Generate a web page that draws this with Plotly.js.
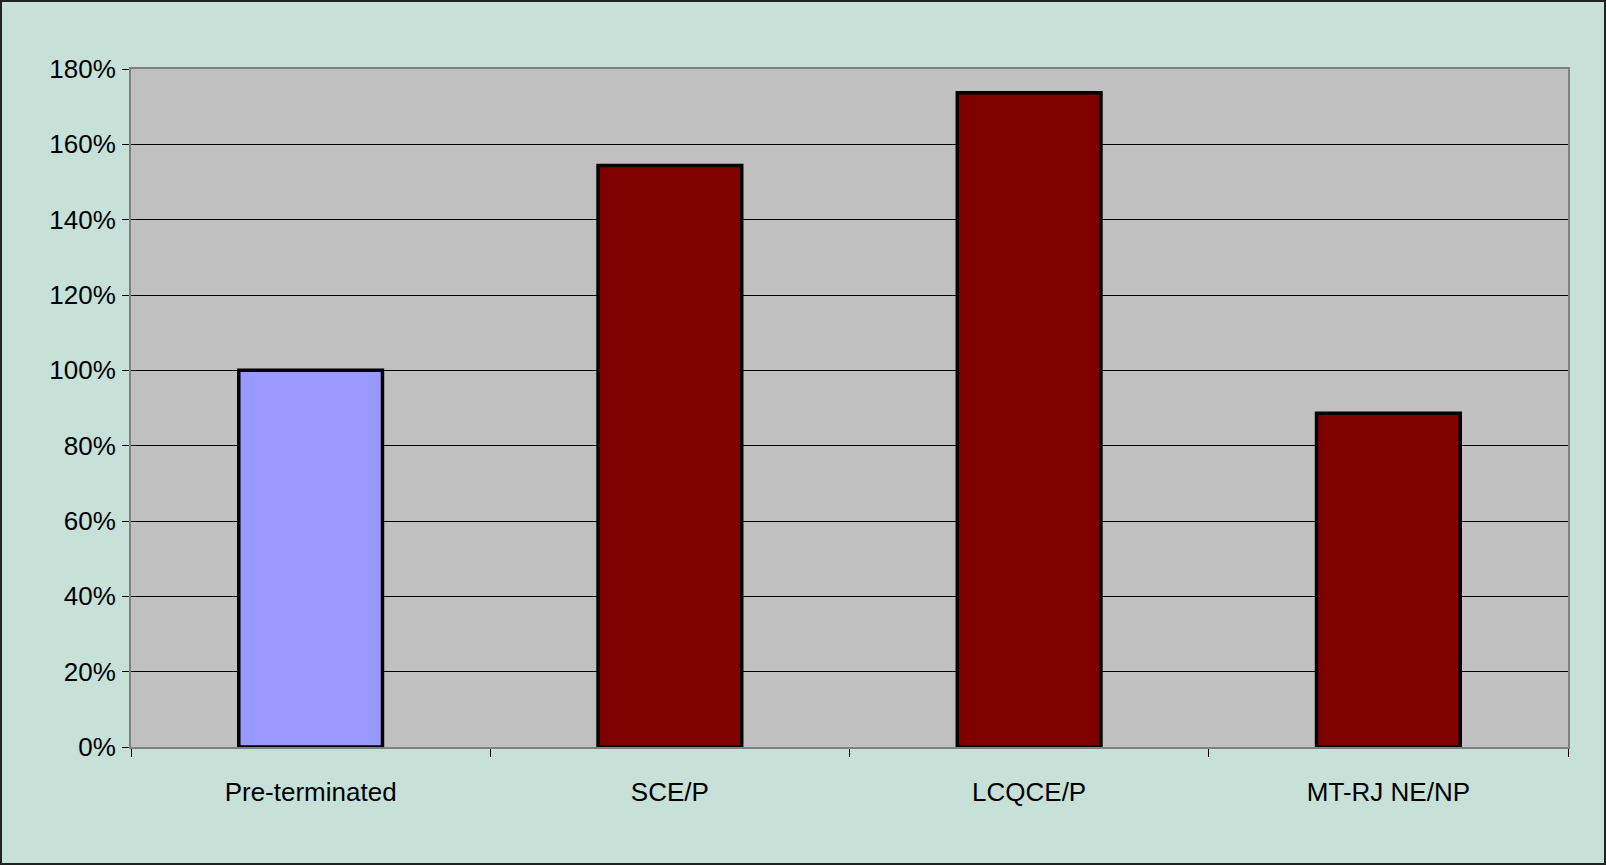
<!DOCTYPE html>
<html>
<head>
<meta charset="utf-8">
<script src="https://cdn.plot.ly/plotly-3.0.1.min.js"></script>
<style>
  body { margin: 0; padding: 0; background: #ffffff; }
  #chart { width: 1602px; height: 861px; border: 2px solid #222222; }
</style>
</head>
<body>
<div id="chart"></div>
<script>
// connector types, share relative to pre-terminated
let categories = ["Pre-terminated", "SCE/P", "LCQCE/P", "MT-RJ NE/NP"];
let values = [1.00, 1.544, 1.737, 0.886];
let barColors = ["#9999FF", "#800000", "#800000", "#800000"];
let yTicks = [0, 0.2, 0.4, 0.6, 0.8, 1.0, 1.2, 1.4, 1.6, 1.8];

let bars = {
    x: categories,
    y: values,
    type: 'bar',
    hoverinfo: 'skip',
    showlegend: false,
    marker: {
        color: barColors,
        line: { color: "#000000", width: 3.5 }
    }
};

let layout = {
    width: 1602,
    height: 861,
    margin: { l: 129, r: 36, t: 67, b: 116 },
    paper_bgcolor: "#C7E1D9",
    plot_bgcolor: "#C0C0C0",
    bargap: 0.6,
    font: { family: "Liberation Sans, Arial, sans-serif", size: 26, color: "#000000" },
    xaxis: {
        type: 'category',
        tickson: 'boundaries',
        ticks: 'outside',
        ticklen: 8,
        tickcolor: "#000000",
        tickwidth: 1,
        ticklabelstandoff: 21,
        showline: true,
        linecolor: "#808080",
        linewidth: 2,
        mirror: true,
        showgrid: false,
        tickfont: { size: 26 }
    },
    yaxis: {
        range: [0, 1.8],
        tickvals: yTicks,
        tickformat: '.0%',
        ticks: 'outside',
        ticklen: 7,
        tickcolor: "#000000",
        tickwidth: 1,
        ticklabelstandoff: 1,
        showline: true,
        linecolor: "#808080",
        linewidth: 2,
        mirror: true,
        showgrid: true,
        gridcolor: "#000000",
        gridwidth: 1,
        zeroline: false,
        tickfont: { size: 26 }
    }
};

Plotly.newPlot('chart', [bars], layout, { displayModeBar: false, staticPlot: true });
</script>
</body>
</html>
